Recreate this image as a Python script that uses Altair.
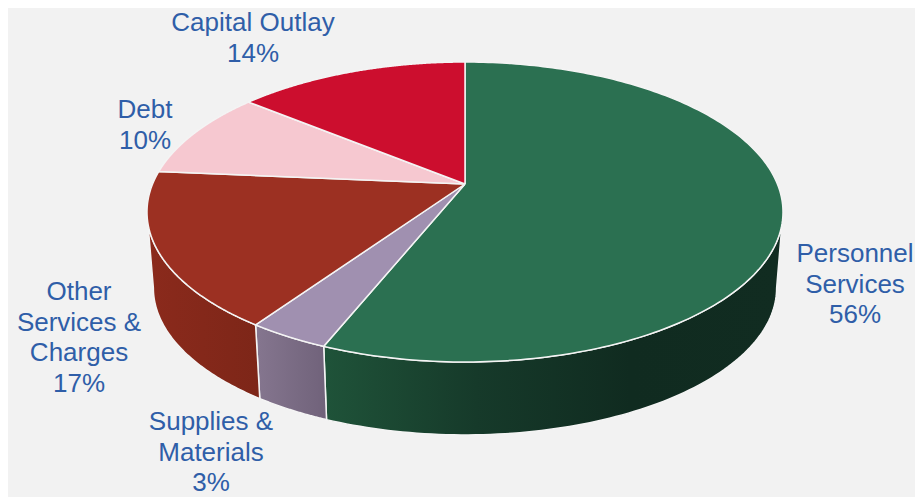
import math
import altair as alt
import pandas as pd

CATEGORIES = ["Personnel Services", "Supplies & Materials", "Other Services & Charges", "Debt", "Capital Outlay"]
SHARES = [56.1, 3.5, 16.8, 9.5, 14.1]
TOP_COLORS = ["#2b7051", "#a090b0", "#9c3022", "#f6c8d0", "#cc0e2e"]
WALL_STOPS = [["#1f5339", "#163a2a", "#102b20", "#112c21"], ["#85768f", "#70627a"], ["#8b2a1c", "#7d2618"]]
LABEL_LINES = [["Personnel", "Services", "56%"], ["Supplies &", "Materials", "3%"],
               ["Other", "Services &", "Charges", "17%"], ["Debt", "10%"], ["Capital Outlay", "14%"]]

# layout of the perspective disc, in pixels of the picture
CX, APEX_Y, A, P, C = 465.0, 184.0, 312.4, -110.4, 0.1867
SHRINK, SHIFT_Y = 0.98, 80.2
SILHOUETTE = 100.8
LABEL_X = [855, 211, 79, 145, 253]
LABEL_Y0 = [254, 422, 292, 110, 23]
LINE_GAP = 30.5


def top(theta):
    t = math.radians(theta)
    u, v = math.sin(t), math.cos(t)
    d = 1 + C * v
    return CX + A * u / d, (APEX_Y + P * v) / d


def bottom(theta):
    x, y = top(theta)
    return CX + SHRINK * (x - CX), SHRINK * y + SHIFT_Y


def frame(points):
    return pd.DataFrame({"x": [p[0] for p in points], "y": [p[1] for p in points], "i": range(len(points))})


def arc(f, a, b, n=90):
    return [f(a + (b - a) * k / n) for k in range(n + 1)]


X = alt.X("x:Q", axis=None, scale=alt.Scale(domain=[8, 915], nice=False, zero=False))
Y = alt.Y("y:Q", axis=None, scale=alt.Scale(domain=[8, 497], reverse=True, nice=False, zero=False))


def poly(points, fill, stroke="#f4f4f4"):
    return alt.Chart(frame(points)).mark_line(fill=fill, stroke=stroke, strokeWidth=1.5, interpolate="linear").encode(
        x=X, y=Y, order="i:Q")


edges = [0.0]
for s in SHARES:
    edges.append(edges[-1] + s * 3.6)


def gradient(stops):
    n = len(stops) - 1
    return alt.LinearGradient(gradient="linear", x1=0, x2=1, y1=0, y2=0,
                              stops=[alt.GradientStop(offset=k / n, color=c) for k, c in enumerate(stops)])


layers = []
# side walls, front part only
wall_spans = [(SILHOUETTE, edges[1], 0), (edges[1], edges[2], 1), (edges[2], 360 - SILHOUETTE, 2)]
for a, b, k in wall_spans:
    pts = arc(top, a, b) + arc(bottom, b, a)
    pts.append(pts[0])
    layers.append(poly(pts, gradient(WALL_STOPS[k])))
# top faces
for k in range(len(SHARES)):
    apex = (CX, APEX_Y)
    pts = [apex] + arc(top, edges[k], edges[k + 1], 200) + [apex]
    layers.append(poly(pts, TOP_COLORS[k]))

rows = []
for k, lines in enumerate(LABEL_LINES):
    for j, t in enumerate(lines):
        rows.append({"x": LABEL_X[k], "y": LABEL_Y0[k] + j * LINE_GAP, "t": t})
layers.append(alt.Chart(pd.DataFrame(rows)).mark_text(
    font="Liberation Sans", fontSize=26, color="#2f5ea8", align="center", baseline="middle").encode(
    x=X, y=Y, text="t:N"))

chart = alt.layer(*layers).properties(width=907, height=489, background="#f2f2f2", padding=0).configure_view(stroke=None)
chart.save("out.html", embed_options={"renderer": "svg", "actions": False})
